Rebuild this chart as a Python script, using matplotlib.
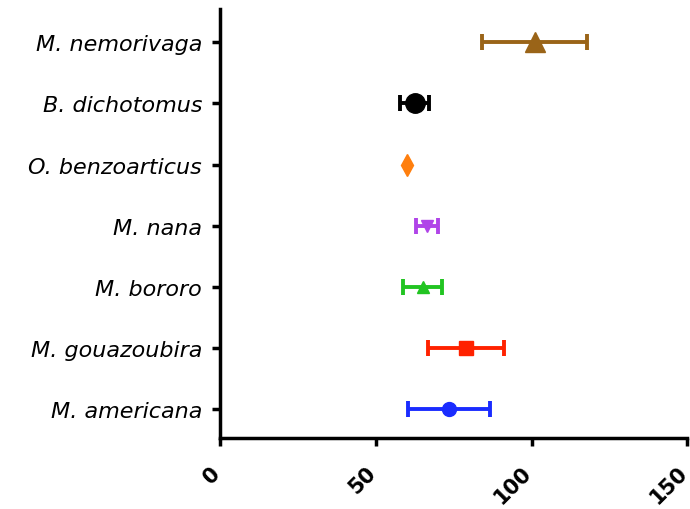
import matplotlib
matplotlib.use("Agg")
import matplotlib.pyplot as plt
import matplotlib.transforms as mtrans

species = ["M. americana", "M. gouazoubira", "M. bororo", "M. nana",
           "O. benzoarticus", "B. dichotomus", "M. nemorivaga"]
means = [73.6, 79.0, 65.0, 66.5, 60.0, 62.5, 101.0]
errors = [13.2, 12.2, 6.2, 3.5, 0.0, 4.6, 16.9]
colors = ["#1a2cff", "#ff2200", "#22c422", "#b044e8", "#ff7f0e", "#000000", "#9a6418"]
markers = ["o", "s", "^", "v", "d", "o", "^"]
msizes = [10, 10, 9, 9, 11, 14, 15]
xticks = [0, 50, 100, 150]

fig = plt.figure(figsize=(6.9, 5.1), dpi=100)
ax = fig.add_axes([0.319, 0.139, 0.677, 0.841])

for i, (m, e, c, mk, ms) in enumerate(zip(means, errors, colors, markers, msizes)):
    ax.errorbar(m, i, xerr=e if e > 0 else None, fmt=mk, color=c, ms=ms,
                elinewidth=2.8, capsize=6, capthick=2.8, mec=c, mfc=c)

ax.set_xlim(0, 150)
ax.set_ylim(-0.47, 6.54)
ax.set_yticks(range(len(species)))
ax.set_yticklabels(species, fontsize=16, style="italic")
ax.set_xticks(xticks)
ax.set_xticklabels([])
trans = mtrans.offset_copy(ax.get_xaxis_transform(), fig=fig, x=-10, y=-24, units="dots")
for t in xticks:
    ax.text(t, 0, str(t), transform=trans, rotation=45, rotation_mode="anchor",
            ha="right", va="top", fontsize=15, fontweight="bold", clip_on=False)
for s in ["top", "right"]:
    ax.spines[s].set_visible(False)
for s in ["left", "bottom"]:
    ax.spines[s].set_linewidth(2.5)
ax.tick_params(axis="both", width=2.5, length=6)
ax.tick_params(axis="y", pad=7)

fig.savefig("out.png", dpi=100)
